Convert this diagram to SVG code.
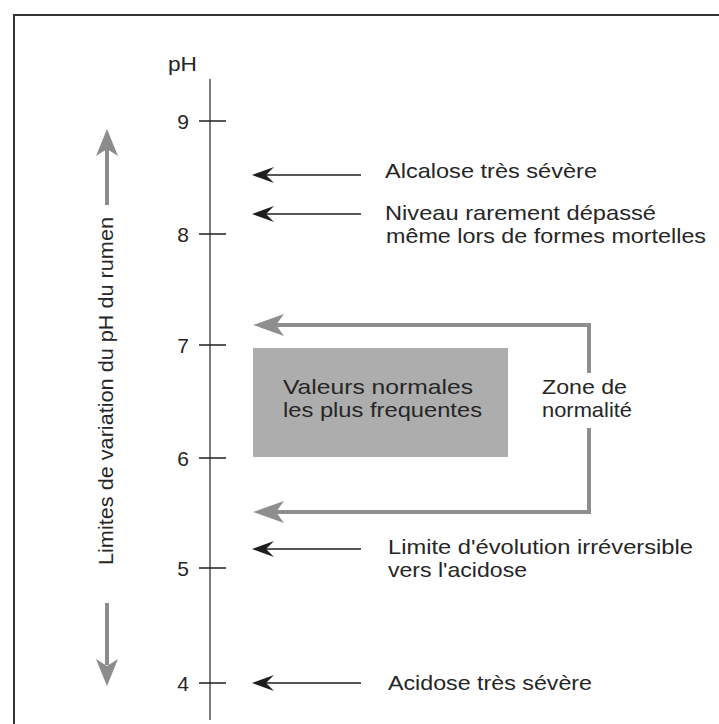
<svg xmlns="http://www.w3.org/2000/svg" width="719" height="724" viewBox="0 0 719 724">
  <defs>
    <style>
      text { font-family: "Liberation Sans", Arial, sans-serif; font-size: 21px; fill: #262626; }
      .tick { stroke: #1e1e1e; stroke-width: 1.5; }
      .thin { stroke: #1e1e1e; stroke-width: 1.3; fill: none; }
      .thick { stroke: #8e8e8e; stroke-width: 4; fill: none; }
      .headk { fill: #1e1e1e; }
      .headg { fill: #8e8e8e; }
    </style>
  </defs>
  <rect x="0" y="0" width="719" height="724" fill="#ffffff"/>
  <g id="frame">
    <path d="M14 730 V15 H730" fill="none" stroke="#333333" stroke-width="2"/>
  </g>

  <g id="axis">
    <line x1="210" y1="79" x2="210" y2="720" stroke="#5a5a5a" stroke-width="1.6"/>
    <text x="168" y="71" textLength="29" lengthAdjust="spacingAndGlyphs">pH</text>
    <line class="tick" x1="199" y1="121" x2="226" y2="121"/>
    <line class="tick" x1="199" y1="234" x2="226" y2="234"/>
    <line class="tick" x1="199" y1="345" x2="226" y2="345"/>
    <line class="tick" x1="199" y1="458" x2="226" y2="458"/>
    <line class="tick" x1="199" y1="568" x2="226" y2="568"/>
    <line class="tick" x1="199" y1="683" x2="226" y2="683"/>
    <text x="189" y="129" text-anchor="end">9</text>
    <text x="189" y="242" text-anchor="end">8</text>
    <text x="189" y="353" text-anchor="end">7</text>
    <text x="189" y="466" text-anchor="end">6</text>
    <text x="189" y="576" text-anchor="end">5</text>
    <text x="189" y="691" text-anchor="end">4</text>
  </g>

  <g id="range-label">
    <text transform="translate(113,391) rotate(-90)" text-anchor="middle" textLength="348" lengthAdjust="spacingAndGlyphs">Limites de variation du pH du rumen</text>
    <line x1="107" y1="205" x2="107" y2="148" stroke="#8c8c8c" stroke-width="4"/>
    <polygon points="107,129 96,156 107,149 118,156" fill="#8c8c8c"/>
    <line x1="107" y1="603" x2="107" y2="665" stroke="#8c8c8c" stroke-width="4"/>
    <polygon points="107,686 96,659 107,666 118,659" fill="#8c8c8c"/>
  </g>

  <g id="normal-box">
    <rect x="253" y="348" width="255" height="109" fill="#adadad"/>
    <text x="283" y="394" textLength="190" lengthAdjust="spacingAndGlyphs">Valeurs normales</text>
    <text x="283" y="417" textLength="199" lengthAdjust="spacingAndGlyphs">les plus frequentes</text>
  </g>

  <g id="zone-label">
    <text x="542" y="394" textLength="85" lengthAdjust="spacingAndGlyphs">Zone de</text>
    <text x="542" y="417" textLength="90" lengthAdjust="spacingAndGlyphs">normalité</text>
  </g>

  <g id="label-alcalose">
    <text x="385" y="178" textLength="212" lengthAdjust="spacingAndGlyphs">Alcalose très sévère</text>
  </g>
  <g id="label-niveau">
    <text x="385" y="220" textLength="271" lengthAdjust="spacingAndGlyphs">Niveau rarement dépassé</text>
    <text x="386" y="243" textLength="320" lengthAdjust="spacingAndGlyphs">même lors de formes mortelles</text>
  </g>
  <g id="label-limite">
    <text x="388" y="554" textLength="305" lengthAdjust="spacingAndGlyphs">Limite d'évolution irréversible</text>
    <text x="388" y="577" textLength="139" lengthAdjust="spacingAndGlyphs">vers l'acidose</text>
  </g>
  <g id="label-acidose">
    <text x="388" y="690" textLength="204" lengthAdjust="spacingAndGlyphs">Acidose très sévère</text>
  </g>

  <g id="connectors">
    <line class="thin" x1="361" y1="175" x2="262" y2="175"/>
    <polygon class="headk" points="252,175 274,167 266,175 274,183"/>
    <line class="thin" x1="361" y1="214" x2="262" y2="214"/>
    <polygon class="headk" points="252,214 274,206 266,214 274,222"/>
    <line class="thin" x1="361" y1="549" x2="262" y2="549"/>
    <polygon class="headk" points="252,549 274,541 266,549 274,557"/>
    <line class="thin" x1="361" y1="683" x2="262" y2="683"/>
    <polygon class="headk" points="252,683 274,675 266,683 274,691"/>

    <path class="thick" d="M589 373 V325 H272"/>
    <polygon class="headg" points="253,325 284,314 276,325 284,336"/>
    <path class="thick" d="M589 428 V512 H272"/>
    <polygon class="headg" points="253,512 284,501 276,512 284,523"/>
  </g>
</svg>
